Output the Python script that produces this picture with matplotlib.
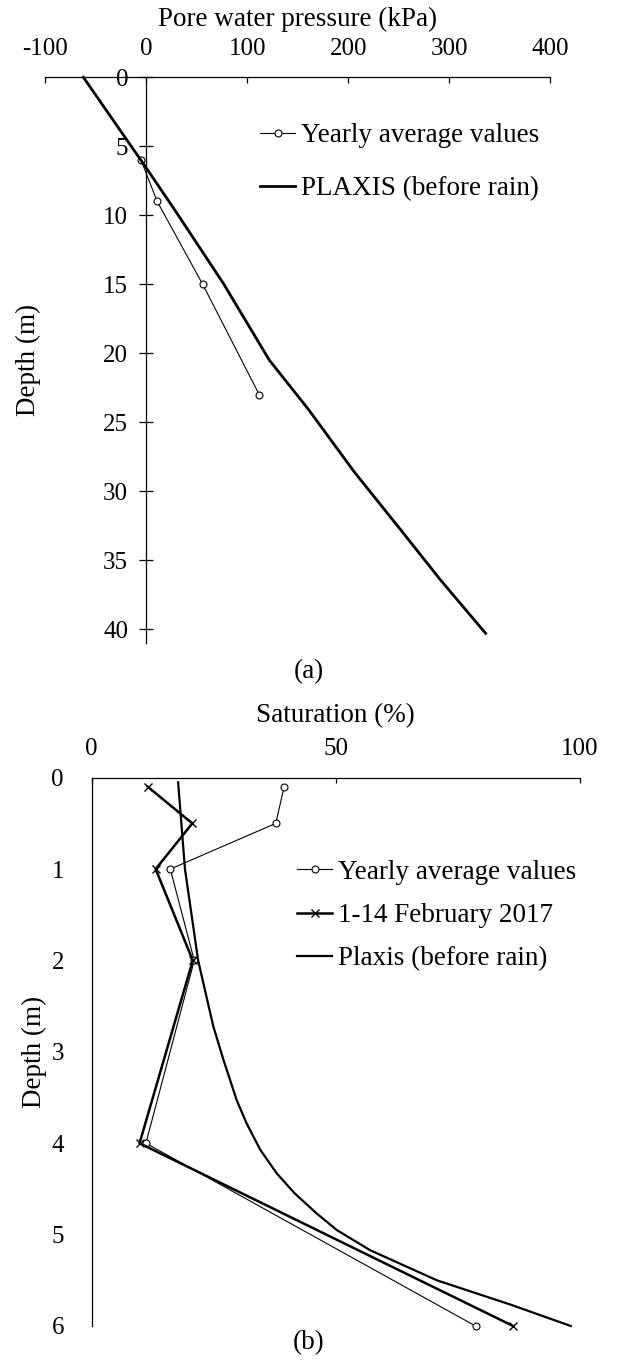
import matplotlib
matplotlib.use('Agg')
import matplotlib.pyplot as plt

plt.rcParams['font.family'] = ['Liberation Serif', 'DejaVu Serif']
plt.rcParams['axes.unicode_minus'] = False

# (a) pore water pressure vs depth
yearly_depth_a = [6, 9, 15, 23]
yearly_pwp = [-5, 11, 56, 112]
plaxis_depth_a = [0, 6.6, 9.9, 15, 20.5, 24.1, 28.6, 32.8, 36.4, 40.3]
plaxis_pwp = [-62, 0.5, 31, 77, 122, 161, 206, 252, 291, 336]
pwp_ticks = [-100, 0, 100, 200, 300, 400]
depth_ticks_a = [0, 5, 10, 15, 20, 25, 30, 35, 40]

# (b) saturation vs depth
depth_b = [0.1, 0.5, 1, 2, 4, 6]
yearly_sat = [39.4, 37.7, 16.1, 21.0, 11.1, 78.6]
feb_sat = [11.5, 20.6, 13.1, 20.7, 9.8, 86.3]
plaxis_depth_b = [0.05, 1, 2, 2.72, 3.09, 3.53, 3.78, 4.07, 4.33, 4.55, 4.77,
                  4.95, 5.17, 5.5, 5.77, 6]
plaxis_sat = [17.7, 19.1, 21.8, 24.9, 27.0, 29.7, 31.7, 34.5, 37.9, 41.6, 46.1,
              50.2, 57.0, 70.7, 86.0, 98.1]
sat_ticks = [0, 50, 100]
depth_ticks_b = [0, 1, 2, 3, 4, 5, 6]

W, H = 618, 1360
fig = plt.figure(figsize=(W / 100, H / 100), dpi=100)

# ---- panel (a)
ax1 = fig.add_axes([45 / W, 1 - 643 / H, (550.3 - 45) / W, (643 - 77.3) / H])
ax1.plot(yearly_pwp, yearly_depth_a, color='black', lw=0.8, marker='o', ms=5,
         mfc='white', mec='black', mew=0.8, label='Yearly average values', clip_on=False)
ax1.plot(plaxis_pwp, plaxis_depth_a, color='black', lw=2, label='PLAXIS (before rain)',
         clip_on=False)
ax1.set_xlim(-100, 400)
ax1.set_ylim(41, 0)
ax1.set_xticks(pwp_ticks)
ax1.set_yticks(depth_ticks_a)
ax1.spines['left'].set_position(('data', 0))
ax1.spines['right'].set_visible(False)
ax1.spines['bottom'].set_visible(False)
for s in ['left', 'top']:
    ax1.spines[s].set_linewidth(0.9)
ax1.xaxis.set_ticks_position('top')
ax1.xaxis.set_label_position('top')
ax1.tick_params(axis='x', direction='in', length=4.5, width=0.9, pad=12.8, labelsize=18)
ax1.tick_params(axis='y', direction='inout', length=10, width=0.9, pad=8, labelsize=18)
ax1.set_xlabel('Pore water pressure (kPa)', fontsize=19.5, labelpad=8)
ax1.set_ylabel('Depth (m)', fontsize=19.5)
ax1.yaxis.set_label_coords(-0.008, 0.5)
ax1.legend(loc='center left', bbox_to_anchor=(260 / W, 1 - 162.5 / H),
           bbox_transform=fig.transFigure, frameon=False, fontsize=19.5,
           borderpad=0, borderaxespad=0, handlelength=1.3, handletextpad=0.22,
           labelspacing=1.04)

# ---- panel (b)
ax2 = fig.add_axes([91.7 / W, 1 - 1326 / H, (580 - 91.7) / W, (1326 - 777.7) / H])
ax2.plot(yearly_sat, depth_b, color='black', lw=0.8, marker='o', ms=5,
         mfc='white', mec='black', mew=0.8, label='Yearly average values', clip_on=False)
ax2.plot(feb_sat, depth_b, color='black', lw=1.8, marker='x', ms=6, mew=1.0,
         label='1-14 February 2017', clip_on=False)
ax2.plot(plaxis_sat, plaxis_depth_b, color='black', lw=1.6, label='Plaxis (before rain)',
         clip_on=False)
ax2.set_xlim(0, 100)
ax2.set_ylim(6, 0)
ax2.set_xticks(sat_ticks)
ax2.set_yticks(depth_ticks_b)
ax2.spines['right'].set_visible(False)
ax2.spines['bottom'].set_visible(False)
for s in ['left', 'top']:
    ax2.spines[s].set_linewidth(0.9)
ax2.xaxis.set_ticks_position('top')
ax2.xaxis.set_label_position('top')
ax2.tick_params(axis='x', direction='in', length=3.5, width=0.9, pad=13, labelsize=18)
ax2.tick_params(axis='y', length=0, pad=20, labelsize=18)
ax2.set_xlabel('Saturation (%)', fontsize=19.5, labelpad=11)
ax2.set_ylabel('Depth (m)', fontsize=19.5)
ax2.yaxis.set_label_coords(-0.092, 0.5)
ax2.legend(loc='center left', bbox_to_anchor=(297 / W, 1 - 915.7 / H),
           bbox_transform=fig.transFigure, frameon=False, fontsize=19.5,
           borderpad=0, borderaxespad=0, handlelength=1.3, handletextpad=0.22,
           labelspacing=0.68)

fig.text(309 / W, 1 - 672 / H, '(a)', fontsize=19.5, ha='center', va='center')
fig.text(309 / W, 1 - 1343 / H, '(b)', fontsize=19.5, ha='center', va='center')

fig.savefig('out.png', dpi=100)
